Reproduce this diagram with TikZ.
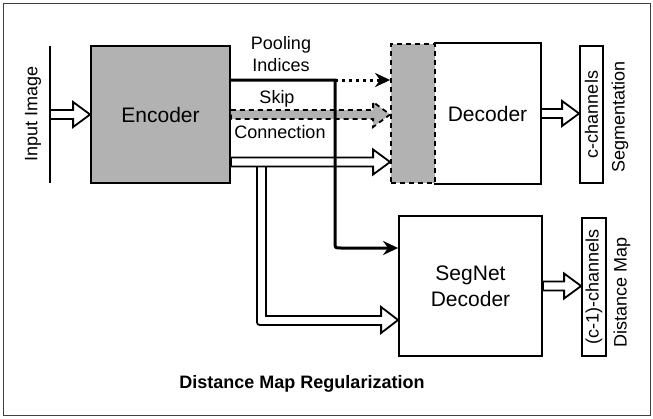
\documentclass[tikz,border=0pt]{standalone}
\usepackage{fontspec}
\setmainfont{Liberation Sans}
\usetikzlibrary{arrows.meta,calc}

\tikzstyle{box}=[draw,line width=1.8pt,inner sep=0pt,align=center,font=\fontsize{21}{26}\selectfont]
\tikzstyle{graybox}=[box,fill=black!30]
\tikzstyle{padbox}=[graybox,dash pattern=on 5pt off 4pt]
\tikzstyle{chanbox}=[draw,line width=1.8pt,rotate=90,inner sep=0pt,font=\fontsize{18}{22}\selectfont]
\tikzstyle{lbl}=[inner sep=0pt,align=center,font=\fontsize{18}{22}\selectfont]
\tikzstyle{block}=[draw,line width=1.8pt,fill=white,line join=miter]
\tikzstyle{skipblock}=[block,fill=black!30,dash pattern=on 5pt off 4pt]
\tikzstyle{pool}=[line width=3pt,-{Stealth[length=15pt,width=14pt]}]
\tikzstyle{pooldot}=[pool,dash pattern=on 3pt off 4pt]

% block arrow: [style]{tail}{tip}, pointing right
\newcommand{\blockarr}[3][block]{%
  \draw[#1] ($(#2)+(0,-4.5)$) -- ($(#3)+(-17,-4.5)$) -- ($(#3)+(-17,-12.5)$) -- (#3)
    -- ($(#3)+(-17,12.5)$) -- ($(#3)+(-17,4.5)$) -- ($(#2)+(0,4.5)$) -- cycle;}

\begin{document}
\begin{tikzpicture}[x=1pt,y=-1pt]
    \useasboundingbox (0,0) rectangle (653,418);
    \draw[black!75,line width=1pt] (3,3) rectangle (650,415);

    % input
    \draw[line width=1.8pt] (50,46) -- (50,183);
    \coordinate (inp) at (50,114.5);
    \node[lbl,rotate=90] (inlbl) at (33,114) {Input Image};

    % boxes
    \node[graybox,minimum width=139pt,minimum height=137pt] (enc) at (160.5,114.5) {Encoder};
    \node[box,draw=none,minimum width=105pt,minimum height=139pt] (dec) at (487.5,113.5) {Decoder};
    \draw[line width=1.8pt] (dec.north west) -| (dec.south east) -- (dec.south west);
    \node[padbox,minimum width=44pt,minimum height=139pt] (decpad) at (413,113.5) {};
    \node[box,minimum width=143pt,minimum height=140pt] (segdec) at (470.5,286) {SegNet\\Decoder};
    \node[chanbox,minimum width=137pt,minimum height=23pt] (cch) at (591.5,114.5) {c-channels};
    \node[chanbox,minimum width=138pt,minimum height=24pt] (dch) at (594,287) {(c-1)-channels};
    \node[lbl,rotate=90] (seglbl) at (620,117) {Segmentation};
    \node[lbl,rotate=90] (dmlbl) at (622,292) {Distance Map};

    % labels
    \node[lbl] (poollbl) at (281,54) {Pooling\\Indices};
    \node[lbl] (skiplbl) at (277,99) {Skip};
    \node[lbl] (connlbl) at (280,132) {Connection};
    \node[lbl,font=\fontsize{18}{22}\selectfont\bfseries] (title) at (302,384) {Distance Map Regularization};

    % arrows
    \blockarr{inp}{enc.west}
    \draw[block] (257,166) -- (257,319) .. controls (257,325) .. (263,325)
      -- ($(segdec.west |- 0,320)+(-17,5)$) -- ($(segdec.west |- 0,320)+(-17,13)$)
      -- (segdec.west |- 0,320) -- ($(segdec.west |- 0,320)+(-17,-13)$)
      -- ($(segdec.west |- 0,320)+(-17,-4)$) -- (266,316) -- (266,166) -- cycle;
    \blockarr{enc.east |- 0,162}{decpad.west |- 0,162}
    \blockarr[skipblock]{enc.east}{enc.east -| decpad.west}
    \blockarr{dec.east}{dec.east -| cch.north}
    \blockarr{segdec.east}{segdec.east -| dch.north}

    \coordinate (pj) at (335,80);
    \draw[pool] (enc.east |- pj) -- (pj) -- (335,242) .. controls (335,248) .. (341,248) -- (segdec.west |- 0,248);
    \draw[pooldot] (pj) -- (decpad.west |- pj);
\end{tikzpicture}
\end{document}
